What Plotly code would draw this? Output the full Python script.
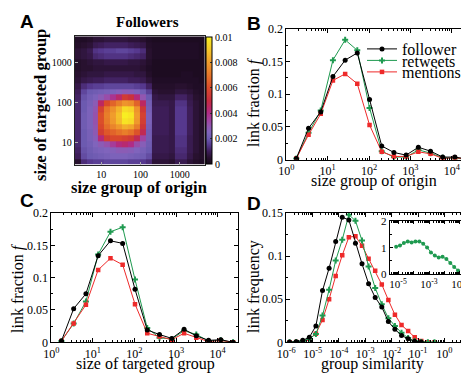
import numpy as np
import plotly.graph_objects as go

W, H = 469, 375
SERIF = "Liberation Serif"
SANS = "Liberation Sans"

# ---------------- data ----------------
# panel A: link density between groups (units of 1e-4), rows listed top (large targets) to bottom
size_origin = [2.5, 3.5, 5, 7, 10, 14, 20, 28, 40, 57, 80, 114, 161, 228, 322, 456, 646, 914, 1293, 1830, 2591, 3668]
size_target = [3741, 2685, 1923, 1377, 986, 708, 507, 363, 260, 186, 133, 95.5, 68.5, 49.1, 35.2, 25.2, 18.0, 12.9, 9.3, 6.6, 4.75, 3.4]
followers_density = [
    [3, 3, 4, 6, 6, 7, 7, 7, 7, 6, 6, 5, 3, 2, 2, 2, 2, 2, 2, 2, 2, 2],
    [4, 5, 6, 9, 10, 11, 11, 11, 11, 10, 9, 8, 4, 3, 3, 3, 3, 3, 3, 3, 3, 2],
    [6, 7, 9, 14, 15, 16, 16, 17, 17, 16, 15, 13, 5, 3, 3, 3, 3, 3, 3, 3, 3, 2],
    [6, 7, 8, 12, 13, 14, 14, 14, 14, 13, 12, 11, 5, 3, 3, 3, 3, 3, 3, 3, 3, 2],
    [4, 5, 6, 7, 7, 8, 8, 8, 8, 7, 7, 6, 4, 2, 2, 2, 2, 2, 2, 2, 2, 2],
    [4, 5, 5, 6, 6, 6, 6, 6, 6, 6, 6, 5, 3, 2, 2, 2, 2, 2, 2, 2, 2, 2],
    [5, 6, 7, 7, 7, 8, 8, 8, 8, 8, 7, 7, 4, 2, 2, 2, 2, 2, 3, 3, 2, 2],
    [6, 8, 9, 10, 10, 11, 11, 11, 11, 10, 10, 9, 6, 3, 3, 3, 3, 3, 3, 3, 3, 2],
    [8, 13, 15, 16, 16, 17, 17, 17, 17, 17, 16, 15, 11, 4, 4, 4, 4, 5, 5, 4, 3, 3],
    [10, 17, 20, 21, 22, 23, 24, 26, 28, 27, 24, 21, 16, 6, 5, 5, 5, 7, 7, 6, 4, 3],
    [11, 19, 22, 24, 28, 32, 38, 44, 55, 52, 42, 30, 20, 8, 7, 7, 7, 11, 11, 8, 5, 4],
    [12, 20, 23, 28, 45, 60, 66, 72, 78, 76, 66, 45, 22, 9, 9, 9, 8, 14, 14, 9, 6, 4],
    [12, 20, 24, 30, 57, 70, 77, 85, 95, 93, 78, 54, 23, 10, 10, 10, 8, 15, 15, 10, 6, 4],
    [12, 21, 24, 31, 61, 72, 80, 88, 100, 98, 80, 57, 24, 10, 10, 10, 8, 15, 15, 10, 6, 4],
    [12, 21, 24, 31, 61, 71, 79, 87, 97, 95, 79, 56, 24, 10, 10, 10, 8, 15, 15, 10, 6, 4],
    [12, 21, 24, 30, 59, 68, 74, 79, 84, 82, 72, 53, 23, 10, 10, 10, 8, 15, 15, 10, 6, 4],
    [12, 20, 23, 29, 56, 63, 66, 69, 72, 69, 62, 47, 22, 10, 10, 10, 8, 15, 15, 10, 6, 4],
    [12, 20, 23, 27, 42, 56, 59, 59, 57, 55, 47, 34, 22, 9, 9, 9, 8, 14, 14, 9, 6, 4],
    [12, 20, 22, 25, 28, 31, 36, 41, 43, 40, 32, 27, 21, 9, 9, 9, 8, 14, 14, 9, 6, 4],
    [11, 19, 21, 23, 24, 25, 26, 28, 28, 27, 25, 23, 20, 9, 9, 9, 8, 13, 13, 9, 6, 4],
    [10, 18, 20, 21, 22, 23, 24, 24, 24, 23, 22, 21, 18, 8, 8, 8, 7, 12, 12, 8, 5, 4],
    [5, 13, 15, 16, 16, 17, 17, 17, 17, 16, 16, 15, 13, 6, 6, 6, 5, 9, 9, 6, 4, 3],
]

# panels B, C: link fraction vs group size
group_size = [1.75, 3.45, 6.8, 13.4, 26.5, 52, 103, 203, 400, 790, 1560, 3070, 6050, 11900, 23500]
follower_B = [0.002, 0.048, 0.073, 0.127, 0.152, 0.163, 0.092, 0.021, 0.011, 0.007, 0.019, 0.013, 0.004, 0.004, 0.001]
retweets_B = [0.002, 0.041, 0.075, 0.152, 0.183, 0.167, 0.079, 0.013, 0.004, 0.004, 0.015, 0.010, 0.003, 0.002, 0.001]
mentions_B = [0.002, 0.038, 0.070, 0.121, 0.131, 0.116, 0.053, 0.012, 0.005, 0.005, 0.012, 0.009, 0.002, 0.003, 0.001]
follower_C = [0.002, 0.052, 0.075, 0.134, 0.157, 0.153, 0.082, 0.019, 0.012, 0.006, 0.020, 0.010, 0.003, 0.004, 0.000]
retweets_C = [0.002, 0.029, 0.063, 0.136, 0.171, 0.178, 0.097, 0.022, 0.007, 0.005, 0.018, 0.012, 0.002, 0.003, 0.000]
mentions_C = [0.002, 0.029, 0.058, 0.112, 0.130, 0.120, 0.059, 0.014, 0.009, 0.004, 0.014, 0.007, 0.001, 0.003, 0.000]

# panel D: link frequency vs group similarity
similarity = [1.33e-6, 2.37e-6, 4.22e-6, 7.5e-6, 1.33e-5, 2.37e-5, 4.22e-5, 7.5e-5, 1.33e-4, 2.37e-4,
              4.22e-4, 7.5e-4, 1.33e-3, 2.37e-3, 4.22e-3, 7.5e-3, 1.33e-2, 2.37e-2, 4.22e-2, 7.5e-2,
              0.133, 0.237, 0.422]
follower_D = [0.0003, 0.0005, 0.0023, 0.0058, 0.019, 0.060, 0.086, 0.117, 0.145, 0.142, 0.115, 0.091,
              0.068, 0.052, 0.041, 0.024, 0.015, 0.008, 0.004, 0.0012, 0.0003]
retweets_D = [0.0002, 0.0004, 0.0015, 0.004, 0.0096, 0.031, 0.061, 0.095, 0.119, 0.148, 0.141, 0.118,
              0.088, 0.063, 0.044, 0.028, 0.019, 0.011, 0.005, 0.0015, 0.0004, 0.0001, 0.0]
mentions_D = [0.0002, 0.0003, 0.001, 0.004, 0.010, 0.026, 0.050, 0.077, 0.101, 0.122, 0.123, 0.112,
              0.097, 0.083, 0.067, 0.049, 0.032, 0.020, 0.013, 0.006, 0.0015, 0.0002, 0.0]
# inset: ratio, for similarity bins 7.5e-6 .. 7.5e-2
inset_sim = similarity[3:20]
inset_ratio = [1.03, 1.08, 1.18, 1.23, 1.20, 1.23, 1.23, 1.15, 1.01, 0.82, 0.70, 0.63, 0.65, 0.57, 0.42, 0.27, 0.13]

BLACK, GREEN, RED = "#000000", "#1f9a50", "#ee2a2a"

# ---------------- helpers ----------------
def fx(p): return p / W
def fy(p): return 1 - p / H

def box(base=None, **kw):
    d = dict(showline=True, linecolor="black", linewidth=1, mirror="ticks", ticks="inside",
             ticklen=4, tickcolor="black", showgrid=False, zeroline=False, automargin=False,
             tickfont=dict(family=SERIF, size=12, color="black"))
    if base:
        d.update(base)
    d.update(kw)
    return d

def log_minor(lo, hi):
    return [m * 10.0 ** k for k in range(lo, hi) for m in range(2, 10)]

def sup(k):
    return "10<sup>%s</sup>" % (str(k) if k >= 0 else "-" + str(-k))

fig = go.Figure()

# ---- A
cscale = [[0.0, "#150818"], [0.05, "#28112f"], [0.1, "#3d1d58"], [0.15, "#56388e"], [0.2, "#6c5ab0"],
          [0.25, "#8064bc"], [0.3, "#9256b0"], [0.35, "#a4409e"], [0.4, "#b02c86"], [0.45, "#bc2862"],
          [0.5, "#c62c40"], [0.6, "#da4a2a"], [0.7, "#e6762a"], [0.8, "#f09c2c"], [0.9, "#f6c82a"],
          [1.0, "#f8ee22"]]
fig.add_trace(go.Heatmap(
    x=size_origin, y=size_target[::-1], z=(np.array(followers_density[::-1]) * 1e-4),
    zmin=0, zmax=0.01, colorscale=cscale, xaxis="x", yaxis="y", zsmooth=False,
    colorbar=dict(x=fx(198), xanchor="left", y=fy(92.5), yanchor="middle", len=127 / H,
                  thickness=6, outlinewidth=1, outlinecolor="black", xpad=0, ypad=0,
                  tickvals=[0, 0.002, 0.004, 0.006, 0.008, 0.01],
                  ticktext=["0", "0.002", "0.004", "0.006", "0.008", "0.01"],
                  ticks="inside", ticklen=2, tickcolor="#333",
                  tickfont=dict(family=SERIF, size=10, color="black")),
    hoverinfo="skip"))

# ---- B, C, D lines
def lines(x, y, color, symbol, size, xa, ya, name=None, legend=None):
    fig.add_trace(go.Scatter(
        x=x, y=y, mode="lines+markers", xaxis=xa, yaxis=ya, name=name,
        line=dict(color=color, width=1),
        marker=dict(color=color, symbol=symbol, size=size, line=dict(width=0)),
        showlegend=legend is not None, legend=legend or "legend"))

lines(group_size, retweets_B, GREEN, "cross", 5, "x2", "y2", "retweets", "legend2")
lines(group_size, mentions_B, RED, "square", 4.5, "x2", "y2", "mentions", "legend3")
lines(group_size, follower_B, BLACK, "circle", 5, "x2", "y2", "follower", "legend")

lines(group_size, retweets_C, GREEN, "cross", 5, "x3", "y3")
lines(group_size, mentions_C, RED, "square", 4.5, "x3", "y3")
lines(group_size, follower_C, BLACK, "circle", 5, "x3", "y3")

lines(similarity, mentions_D, RED, "square", 4.5, "x4", "y4")
lines(similarity, retweets_D, GREEN, "cross", 5, "x4", "y4")
lines(similarity[:len(follower_D)], follower_D, BLACK, "circle", 5, "x4", "y4")

lines(inset_sim, inset_ratio, GREEN, "circle", 4, "x5", "y5")

size_ticks = dict(type="log", range=[0, 4.49], tickmode="array",
                  tickvals=[1, 10, 100, 1000, 10000], ticktext=[sup(k) for k in range(5)],
                  minor=dict(tickmode="array", tickvals=log_minor(0, 5), ticks="inside",
                             ticklen=2, tickcolor="black"))
frac_ticks = dict(range=[0, 0.2], tickmode="array", tickvals=[0, 0.05, 0.1, 0.15, 0.2],
                  ticktext=["0", "0.05", "0.1", "0.15", "0.2"],
                  minor=dict(dtick=0.025, ticks="inside", ticklen=2, tickcolor="black"))

hm_ax = dict(type="log", showline=True, linecolor="#222", linewidth=1, mirror=True,
             ticks="inside", ticklen=3, tickcolor="#aaa", showgrid=False, zeroline=False,
             automargin=False, tickmode="array", tickvals=[10, 100, 1000],
             ticktext=["10", "100", "1000"], tickfont=dict(family=SERIF, size=10, color="black"))

fig.update_layout(
    width=W, height=H, margin=dict(l=0, r=0, t=0, b=0, autoexpand=False),
    paper_bgcolor="white", plot_bgcolor="white",
    font=dict(family=SERIF, color="black"),
    xaxis=dict(hm_ax, domain=[fx(66.7), fx(196.7)], range=[0.32, 3.64], anchor="y"),
    yaxis=dict(hm_ax, domain=[fy(156.7), fy(28.3)], range=[0.46, 3.645], anchor="x"),
    xaxis2=box(size_ticks, domain=[fx(278.3), fx(464)], anchor="y2"),
    yaxis2=box(frac_ticks, domain=[fy(151.7), fy(20.7)], anchor="x2"),
    xaxis3=box(size_ticks, domain=[fx(43.3), fx(230)], anchor="y3"),
    yaxis3=box(frac_ticks, domain=[fy(334.3), fy(205)], anchor="x3"),
    xaxis4=box(type="log", range=[-6, 1.05], tickmode="array",
               tickvals=[10.0 ** k for k in range(-6, 1)], ticktext=[sup(k) for k in range(-6, 1)],
               minor=dict(tickmode="array", tickvals=log_minor(-6, 1), ticks="inside",
                          ticklen=2, tickcolor="black"),
               domain=[fx(278.3), fx(464)], anchor="y4"),
    yaxis4=box(range=[0, 0.15], tickmode="array", tickvals=[0, 0.05, 0.1, 0.15],
               ticktext=["0", "0.05", "0.1", "0.15"],
               minor=dict(dtick=0.025, ticks="inside", ticklen=2, tickcolor="black"),
               domain=[fy(334.3), fy(205)], anchor="x4"),
    xaxis5=box(type="log", range=[-5.54, -0.61], tickmode="array",
               tickvals=[1e-5, 1e-4, 1e-3, 1e-2, 1e-1], ticktext=[sup(-5), "", sup(-3), "", sup(-1)],
               minor=dict(tickmode="array", tickvals=log_minor(-6, 0), ticks="inside",
                          ticklen=2, tickcolor="black"),
               ticklen=3, tickfont=dict(family=SERIF, size=11, color="black"),
               domain=[fx(381.7), fx(458)], anchor="y5"),
    yaxis5=box(range=[0, 2], tickmode="array", tickvals=[0, 1, 2], ticktext=["0", "1", "2"],
               minor=dict(dtick=0.5, ticks="inside", ticklen=2, tickcolor="black"),
               ticklen=3, tickfont=dict(family=SERIF, size=11, color="black"),
               domain=[fy(266), fy(213.3)], anchor="x5"),
)

leg = dict(xanchor="left", yanchor="middle", bgcolor="rgba(0,0,0,0)", itemwidth=30,
           font=dict(family=SERIF, size=16, color="black"), tracegroupgap=0)
fig.update_layout(
    legend=dict(leg, x=fx(354), y=fy(41)),
    legend2=dict(leg, x=fx(354), y=fy(52.5)),
    legend3=dict(leg, x=fx(354), y=fy(64)),
)

# reference line in the inset
fig.add_shape(type="line", xref="x5 domain", yref="y5", x0=0, x1=1, y0=1, y1=1,
              line=dict(color=RED, width=1), layer="below")

def note(text, x, y, size=16, bold=False, family=SERIF, angle=0):
    fig.add_annotation(text="<b>%s</b>" % text if bold else text, x=fx(x), y=fy(y),
                       xref="paper", yref="paper", showarrow=False, textangle=angle,
                       xanchor="center", yanchor="middle",
                       font=dict(family=family, size=size, color="black"))

note("A", 19, 14, 19, True, SANS)
note("B", 246, 16, 19, True, SANS)
note("C", 19, 192, 19, True, SANS)
note("D", 246, 195, 19, True, SANS)

note("Followers", 139, 14, 15, True)
note("size of targeted group", 33, 97, 16.5, True, angle=-90)
note("size group of origin", 131, 179, 16.5, True)

note("link fraction <i>f</i>", 246, 94, 16, angle=-90)
note("size group of origin", 366, 173, 16)
note("link fraction <i>f</i>", 10, 280, 16, angle=-90)
note("size of targeted group", 137, 356, 16)
note("link frequency", 246, 279, 16, angle=-90)
note("group similarity", 364, 356, 16)

fig.write_html("out.html")
